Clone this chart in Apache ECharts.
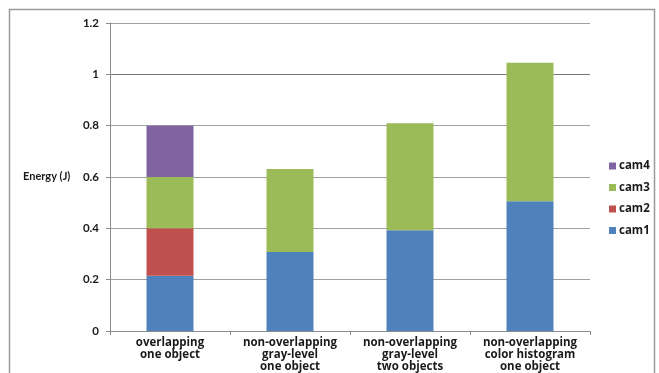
<!DOCTYPE html>
<html>
<head>
<meta charset="utf-8">
<script src="https://cdn.jsdelivr.net/npm/echarts@6/dist/echarts.min.js"></script>
<style>
  html, body { margin: 0; padding: 0; background: #fff; }
  #chart { width: 659px; height: 373px; }
</style>
</head>
<body>
<div id="chart"></div>
<script>
// Energy consumed per camera in each tracking configuration
const categories = [
  'overlapping\none object',
  'non-overlapping\ngray-level\none object',
  'non-overlapping\ngray-level\ntwo objects',
  'non-overlapping\ncolor histogram\none object'
];
const cam1 = [0.215, 0.308, 0.393, 0.506];
const cam2 = [0.185, 0, 0, 0];
const cam3 = [0.2, 0.323, 0.416, 0.539];
const cam4 = [0.2, 0, 0, 0];

const FONT = 'Lato, "Open Sans", sans-serif';
const WIDE = '"Open Sans", Lato, sans-serif';

const chart = echarts.init(document.getElementById('chart'), null, { renderer: 'canvas' });

function bar(name, data, color) {
  return {
    name, type: 'bar', stack: 'energy', data,
    barWidth: 47,
    itemStyle: { color },
    emphasis: { disabled: true }
  };
}

chart.setOption({
  animation: false,
  textStyle: { fontFamily: FONT },
  graphic: [{
    type: 'rect',
    shape: { x: 9.5, y: 9.5, width: 645, height: 380 },
    style: { fill: 'none', stroke: '#9a9a9a', lineWidth: 1.5 },
    silent: true
  }, {
    type: 'text',
    left: 23, top: 171,
    style: { text: 'Energy (J)', font: 'bold 11px ' + FONT, fill: '#1a1a1a' }
  }],
  grid: { left: 110, right: 69, top: 23, bottom: 42, containLabel: false },
  legend: {
    orient: 'vertical',
    left: 604, top: 154,
    itemWidth: 7, itemHeight: 7, itemGap: 7.5,
    icon: 'rect',
    data: ['cam4', 'cam3', 'cam2', 'cam1'],
    textStyle: { fontFamily: WIDE, fontWeight: 'bold', fontSize: 11.5, color: '#1a1a1a', lineHeight: 14, padding: [0, 0, 0, -2] },
    selectedMode: false
  },
  xAxis: {
    type: 'category',
    data: categories,
    axisLine: { lineStyle: { color: '#8c8c8c', width: 1 } },
    axisTick: { show: true, alignWithLabel: false, length: 4, lineStyle: { color: '#8c8c8c' } },
    axisLabel: {
      interval: 0, fontFamily: WIDE, fontWeight: 'bold', fontSize: 11.5,
      color: '#1a1a1a', lineHeight: 12, margin: 6
    }
  },
  yAxis: {
    type: 'value',
    min: 0, max: 1.2, interval: 0.2,
    axisLine: { show: true, lineStyle: { color: '#8c8c8c' } },
    axisTick: { show: true, length: 4, lineStyle: { color: '#8c8c8c' } },
    axisLabel: {
      fontFamily: FONT, fontWeight: 'bold', fontSize: 11.5, color: '#1a1a1a', margin: 11,
      formatter: v => String(Math.round(v * 10) / 10)
    },
    splitLine: { lineStyle: { color: ['#8c8c8c', '#a0a0a0', '#a0a0a0', '#a0a0a0', '#a0a0a0', '#7a7a7a', '#a0a0a0'], width: 1 } }
  },
  series: [
    bar('cam1', cam1, '#4f81bd'),
    bar('cam2', cam2, '#c0504d'),
    bar('cam3', cam3, '#9bbb59'),
    bar('cam4', cam4, '#8064a2')
  ]
});
</script>
</body>
</html>
